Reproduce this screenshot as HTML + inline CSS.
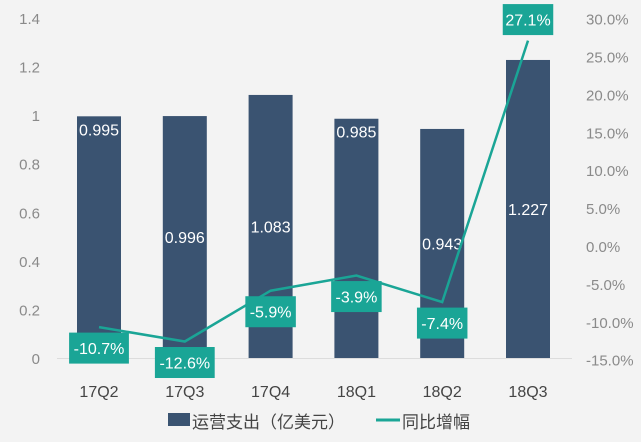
<!DOCTYPE html>
<html><head><meta charset="utf-8"><style>
html,body{margin:0;padding:0;background:#f3f3f3;}
svg{display:block;font-family:"Liberation Sans","Noto Sans CJK SC",sans-serif;}
</style></head><body>
<svg id="c" width="641" height="442"></svg>
<script>
const categories=["17Q2","17Q3","17Q4","18Q1","18Q2","18Q3"];
const opex=[0.995,0.996,1.083,0.985,0.943,1.227];
const growth=[-10.7,-12.6,-5.9,-3.9,-7.4,27.1];
const barLabelPlace=["top","mid","mid","top","mid","mid"];
const leftTicks=[0,0.2,0.4,0.6,0.8,1,1.2,1.4];
const rightTicks=[-15,-10,-5,0,5,10,15,20,25,30];
const NS="http://www.w3.org/2000/svg";
const svg=document.getElementById('c');
function el(t,a,txt){const e=document.createElementNS(NS,t);for(const k in a)e.setAttribute(k,a[k]);if(txt!==undefined)e.textContent=txt;svg.appendChild(e);return e;}
const yL=v=>358-v*242.9;
const yR=v=>246-v*7.58;
const xC=i=>99+i*85.8;
const bw=44;
const base=el('line',{x1:57,x2:572,y1:358.5,y2:358.5,stroke:'#dcdcdc','stroke-width':1});

leftTicks.forEach(v=>{const t=el('text',{x:40,y:yL(v)+6,'text-anchor':'end','font-size':15,fill:'#8a8a8a'},String(v));
});
rightTicks.forEach(v=>{const t=el('text',{x:586,y:yR(v)+6,'font-size':15,fill:'#8a8a8a'},v.toFixed(1)+'%');
});
opex.forEach((v,i)=>{
const r=el('rect',{x:xC(i)-bw/2,y:yL(v),width:bw,height:358-yL(v),fill:'#3a5371'});

const ly=barLabelPlace[i]==='top'?yL(v)+19:(yL(v)+358)/2+6;
const t=el('text',{x:xC(i),y:ly,'text-anchor':'middle','font-size':16,fill:'#fff'},v.toFixed(3));

const c=el('text',{x:xC(i),y:397,'text-anchor':'middle','font-size':16,fill:'#444'},categories[i]);

});
const pts=growth.map((g,i)=>xC(i)+','+yR(g)).join(' ');
const pl=el('polyline',{points:pts,fill:'none',stroke:'#1aa596','stroke-width':2.5});

growth.forEach((g,i)=>{
const s=g.toFixed(1)+'%';const w=s.length*9.3+4;
const cy=g>20?yR(g)-21:yR(g)+21;
const b=el('rect',{x:xC(i)-w/2,y:cy-15.5,width:w,height:31,fill:'#1aa596'});

const t=el('text',{x:xC(i),y:cy+6,'text-anchor':'middle','font-size':16,fill:'#fff'},s);

});
const lr=el('rect',{x:168,y:413,width:22,height:13,fill:'#3a5371'});

const lt=el('text',{x:192,y:428,'font-size':17,fill:'#444'},'运营支出（亿美元）');

const ll=el('line',{x1:376,x2:400,y1:420,y2:420,stroke:'#1aa596','stroke-width':3});

const lt2=el('text',{x:402,y:428,'font-size':17,fill:'#444'},'同比增幅');

</script>
</body></html>
